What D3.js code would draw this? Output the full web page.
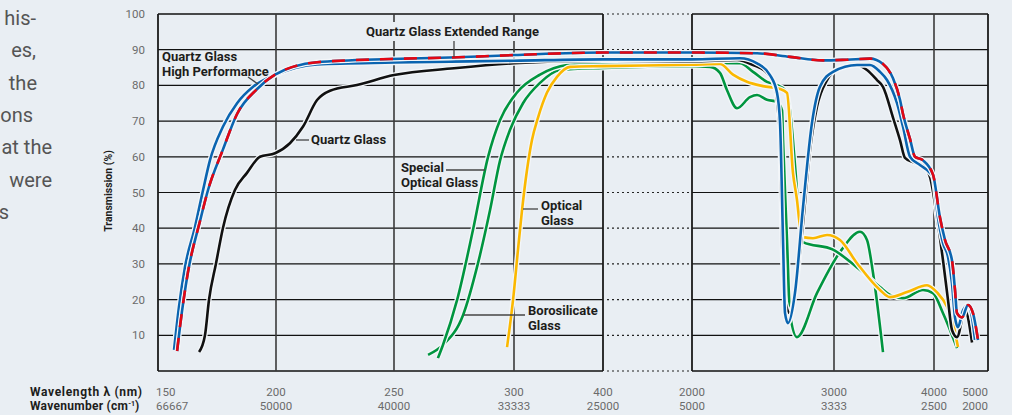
<!DOCTYPE html>
<html><head><meta charset="utf-8">
<script src="https://cdn.jsdelivr.net/npm/d3@7"></script>
<style>
html,body{margin:0;padding:0;background:#e9eef3;}
svg{display:block;font-family:Roboto,"DejaVu Sans",sans-serif;}
</style></head>
<body><svg id="c" width="1012" height="415"></svg>
<script>
// ---- data ----
const wlTicks = [150, 200, 250, 300, 400, 2000, 3000, 4000, 5000];
const wnLabels = ["66667", "50000", "40000", "33333", "25000", "5000", "3333", "2500", "2000"];
const yTicks = [10, 20, 30, 40, 50, 60, 70, 80, 90, 100];

const extWl = [158.1,159.3,162.7,167.8,171.2,177.5,183.5,192.0,199.6,217.4,248.3,273.3,300,400,2000,2458,2690,2923,3130,3360,3490,3590,3660,3690,3760,3810,3890,3990,4111,4204,4333,4389,4426,4519,4630,4722,4815];
const extT  = [5.6,12.3,27.7,42,50.7,62,72,79,83,86.5,87.4,87.8,88.5,89.2,89.2,89,88,87,87.2,87.5,86,82,76,72,65,60,59,55,43,36.7,31,22.7,16.2,15,18.5,16.2,8.7];

const hpWl = [156.8,158.9,161.4,165.7,169.1,172.0,177.5,183.5,190.3,199.6,217.4,250,300,400,2000,2338,2458,2549,2599,2620,2641,2655,2676,2725,2782,2845,2901,2993,3230,3360,3460,3530,3630,3690,3760,3860,3960,3990,4074,4167,4259,4333,4389,4444,4537,4630,4704,4759];
const hpT  = [5.9,18,29,40.4,50.7,59,68.4,75,79.6,82.9,85.9,86.4,86.9,87.3,87.3,87.6,86.2,82.9,77.9,69.5,36.7,16.2,13.4,21.8,46,69.5,79.6,83.8,85.7,85.7,83.8,81.5,75,68.4,60,57.7,55.5,54.3,43,35.8,32,24.6,15,12.3,17,18.5,15,8.7];

const qgWl = [167.4,169.9,171.6,174.6,177.5,182.6,187.7,193.2,199.6,205.9,211.4,217.4,222.9,234.3,250,275,300,400,2000,2317,2430,2528,2585,2606,2620,2634,2655,2690,2725,2782,2831,2880,2951,3060,3230,3330,3430,3490,3590,3660,3710,3790,3890,3960,4056,4167,4259,4333,4426,4574,4704];
const qgT  = [5.3,10,19.9,30.2,40,50.7,55.5,60,61,63.8,68.4,75.9,78.5,80.1,82.9,84.8,86.2,86.9,86.8,87.1,85.7,83.5,79.6,73,64.7,36.7,19.9,16.2,21.8,41.5,61.9,74,81.5,84.9,85.7,84.3,81.5,79.6,71,64.7,59.7,58.5,57.5,54.3,43,31,19.9,11.5,9.5,17,8];

const sogWl = [268.3,270.4,276.3,282.9,289.2,294.2,303.4,329.2,359.6,400,2000,2338,2430,2528,2599,2655,2690,2711,2739,2761,2782,2993,3230,3460,3560,3690,3890,3990,4167,4426];
const sogT  = [3.6,7.3,19.9,39.5,60,70.3,78,83,85.7,86.3,86.3,86.2,83.8,81,80.1,78.7,73,64.7,50.7,39.5,36.1,34,29,23.5,21.3,20.4,22.7,21.8,16.2,6.4];

const boroWl = [264.2,270.4,278.8,285,290,294.2,298.3,310.1,329.2,351.7,400,2000,2127,2197,2246,2317,2408,2458,2528,2599,2634,2641,2669,2690,2739,2880,3077,3260,3330,3390,3490];
const boroT  = [4.5,7.3,15.7,30.2,45,59,67.5,75,80.7,84.3,84.9,85.4,85.2,83.5,78.7,73.6,76.7,77.3,76,75.4,73,64.7,36.7,16,9.5,21.8,34,39,36.7,27.5,5.3];

const ogWl = [297.1,299.6,304.5,309,314.6,320.2,327,337.1,348.3,362.9,400,2000,2197,2289,2387,2500,2620,2669,2711,2739,2761,2782,2852,2951,3060,3230,3460,3560,3730,3930,4056,4241,4352,4444];
const ogT  = [6.7,19.9,34,45,56.3,64.7,71,78,82.4,85.2,85.4,85.8,86,83,81,79.8,79,77.9,55.5,48,40.4,37.5,37.2,38.1,36.7,30.2,22.7,20.7,22.1,24,22,18,13.4,6.7];

const paraLines = ["his-", "es,", "the", "ons", "at the", "were", "s"];

// ---- scales ----
const x = d3.scaleLinear().domain(wlTicks).range([158,276,394,514,603,692,834,934,988]);
const y = d3.scaleLinear().domain([0,100]).range([371,14]);
const svg = d3.select("#c");
const BG = "#e9eef3";

// paragraph fragment at left
const paraEnds = [36,36,37,33,52,52,9];
svg.append("g").selectAll("text").data(paraLines).join("text")
  .attr("x",(d,i)=>paraEnds[i]).attr("y",(d,i)=>25+i*32.3)
  .attr("text-anchor","end").attr("font-size",20).attr("fill","#555")
  .attr("font-weight",400).text(d=>d);

// ---- grid ----
const g = svg.append("g");
const L0 = x(150), L1 = x(400), R0 = x(2000), R1 = x(5000);
const hv = d3.range(0,101,10);
hv.forEach(v=>{
  const isFrame = v===0||v===100;
  g.append("line").attr("x1",L0).attr("x2",L1).attr("y1",y(v)).attr("y2",y(v))
    .attr("stroke","#111").attr("stroke-width",isFrame?1.6:1.2);
  g.append("line").attr("x1",R0).attr("x2",R1).attr("y1",y(v)).attr("y2",y(v))
    .attr("stroke","#111").attr("stroke-width",isFrame?1.6:1.2);
  g.append("line").attr("x1",L1+4).attr("x2",R0-2).attr("y1",y(v)).attr("y2",y(v))
    .attr("stroke","#222").attr("stroke-width",1.2).attr("stroke-dasharray","2,3");
});
wlTicks.forEach(w=>{
  const frame = (w===150||w===400||w===2000||w===5000);
  g.append("line").attr("x1",x(w)).attr("x2",x(w)).attr("y1",y(100)).attr("y2",y(0))
    .attr("stroke",frame?"#1a1a1a":"#3a3a3a").attr("stroke-width",frame?1.8:1.6);
});

// y tick labels
svg.append("g").selectAll("text").data(yTicks).join("text")
  .attr("x",145).attr("y",d=>y(d)+4).attr("text-anchor","end")
  .attr("font-size",11.5).attr("fill","#6b6b6b").text(d=>d);

svg.append("text").attr("transform","translate(112,191) rotate(-90)")
  .attr("text-anchor","middle").attr("font-size",10.5).attr("font-weight",700)
  .attr("fill","#1d1d1b").text("Transmission (%)");

// x labels
const xl = svg.append("g").attr("font-size",11.5).attr("fill","#6b6b6b");
wlTicks.forEach((w,i)=>{
  let anchor="middle", px=x(w);
  if(i===0){anchor="start"; px=x(w)-2;}
  if(i===wlTicks.length-1){anchor="end"; px=x(w);}
  xl.append("text").attr("x",px).attr("y",396).attr("text-anchor",anchor).text(w);
  xl.append("text").attr("x",px).attr("y",410).attr("text-anchor",anchor).text(wnLabels[i]);
});
const bl = svg.append("g").attr("font-size",12).attr("font-weight",700).attr("fill","#1d1d1b");
bl.append("text").attr("x",30).attr("y",396).attr("textLength",112).attr("lengthAdjust","spacing")
  .text("Wavelength  λ (nm)");
const wn = bl.append("text").attr("x",30).attr("y",410);
wn.append("tspan").attr("textLength",98).attr("lengthAdjust","spacing").text("Wavenumber (cm");
wn.append("tspan").attr("dy",-4).attr("font-size",7).text("-1");
wn.append("tspan").attr("dy",4).text(")");

// ---- curves ----
const line = d3.line().x(d=>x(d[0])).y(d=>y(d[1])).curve(d3.curveMonotoneX);
const zipd = (a,b)=>a.map((v,i)=>[v,b[i]]);
const cg = svg.append("g").attr("fill","none").attr("stroke-linejoin","round").attr("stroke-linecap","butt");
function curve(wl,t,color,dash){
  const d = line(zipd(wl,t));
  cg.append("path").attr("d",d).attr("stroke","#f3f6f9").attr("stroke-width",5.2);
  cg.append("path").attr("d",d).attr("stroke",color).attr("stroke-width",2.6);
  if(dash) cg.append("path").attr("d",d).attr("stroke",dash).attr("stroke-width",2.6).attr("stroke-dasharray","13,11");
}
curve(boroWl,boroT,"#00953f");
curve(sogWl,sogT,"#00953f");
curve(ogWl,ogT,"#fbb800");
curve(qgWl,qgT,"#111111");
curve(hpWl,hpT,"#0a64b0");
curve(extWl,extT,"#0a64b0","#e30613");

// ---- annotations ----
const an = svg.append("g");
an.append("rect").attr("x",363).attr("y",22).attr("width",186).attr("height",19).attr("fill",BG);
const lead = (x1,y1,x2,y2)=>an.append("line").attr("x1",x1).attr("y1",y1).attr("x2",x2).attr("y2",y2)
  .attr("stroke","#444").attr("stroke-width",1.3);
lead(454,41,454,57);
lead(248,77,258,84);
lead(296,140,309,140);
lead(446,170,485,170);
lead(523,209,538,209);
lead(464,315,525,315);
const at = an.append("g").attr("font-size",13).attr("font-weight",700).attr("fill","#1d1d1b");
const lab = (tx,ty,s)=>at.append("text").attr("x",tx).attr("y",ty).text(s);
lab(366,36,"Quartz Glass Extended Range");
lab(162,61,"Quartz Glass");
lab(162,76,"High Performance");
lab(311,144,"Quartz Glass");
lab(401,172,"Special");
lab(401,187,"Optical Glass");
lab(541,210,"Optical");
lab(541,225,"Glass");
lab(528,315,"Borosilicate");
lab(528,330,"Glass");
</script></body></html>
